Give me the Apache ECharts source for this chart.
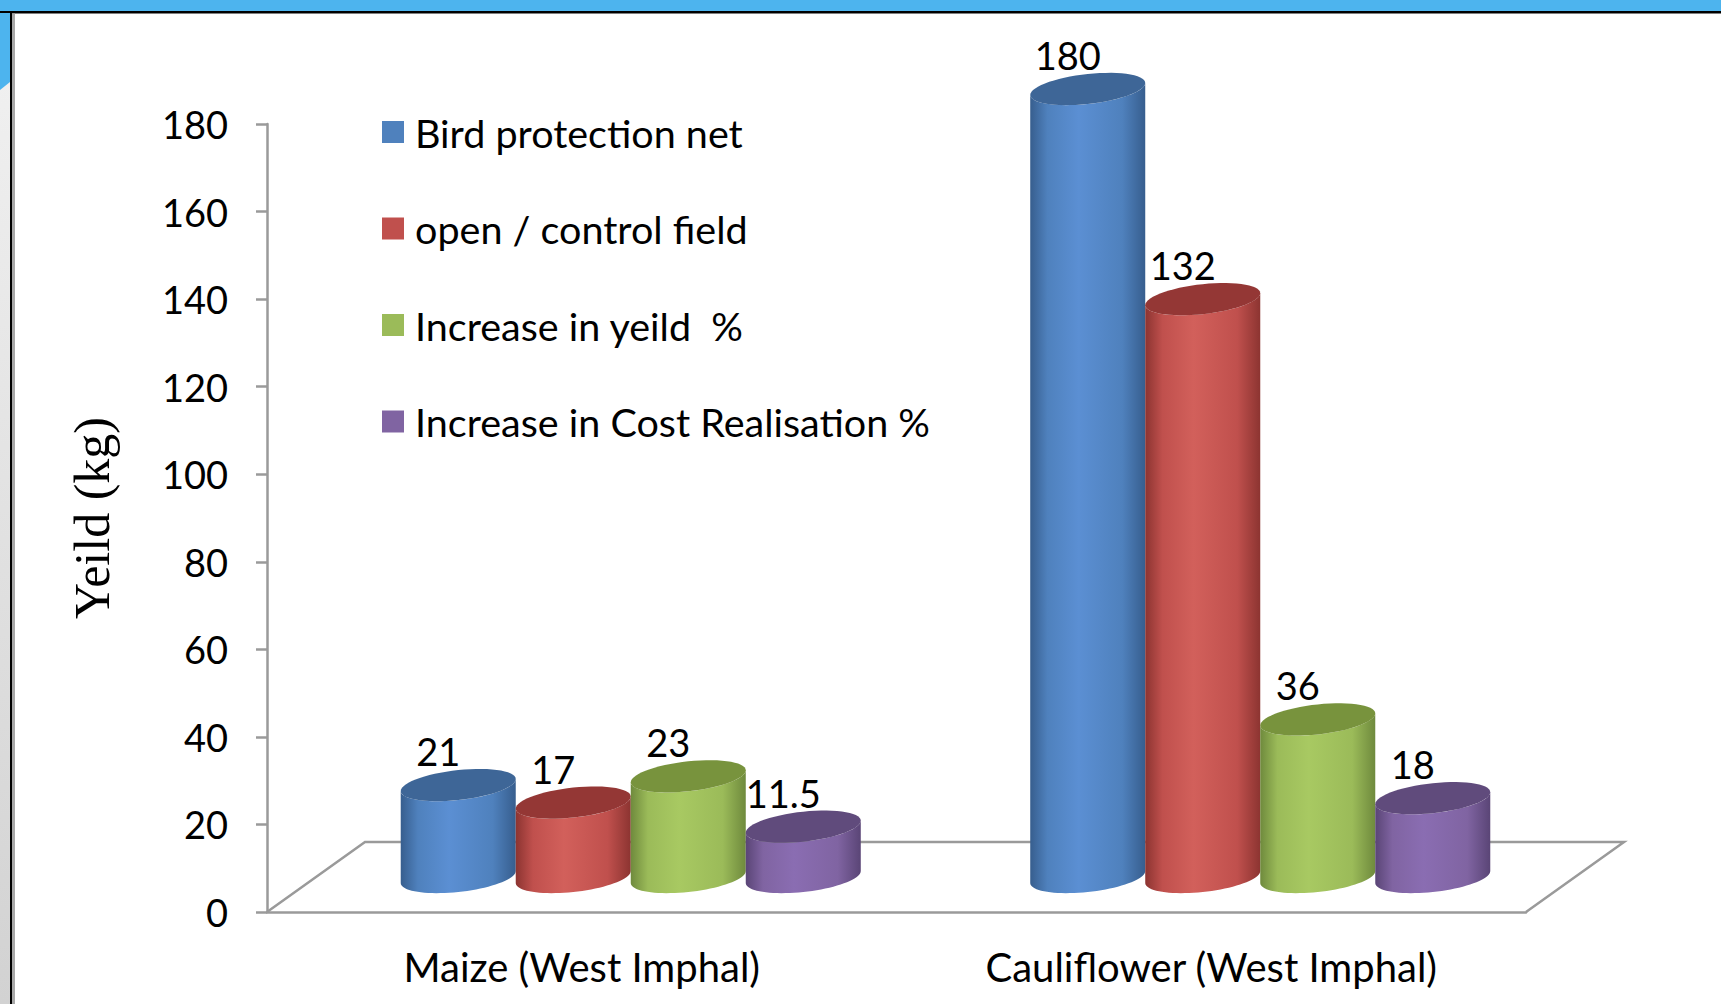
<!DOCTYPE html>
<html>
<head>
<meta charset="utf-8">
<script src="https://cdn.jsdelivr.net/npm/echarts@6/dist/echarts.min.js"></script>
<style>
  html, body { margin: 0; padding: 0; background: #fff; }
  #chart { width: 1721px; height: 1004px; }
</style>
</head>
<body>
<div id="chart"></div>
<script>
// data
var categories = ['Maize (West Imphal)', 'Cauliflower (West Imphal)'];
var seriesNames = ['Bird protection net', 'open / control field', 'Increase in yeild  %', 'Increase in Cost Realisation %'];
var birdNet = [21, 180];
var openField = [17, 132];
var yieldIncrease = [23, 36];
var costIncrease = [11.5, 18];
var yTicks = [0, 20, 40, 60, 80, 100, 120, 140, 160, 180];

// look
var palette = [
  { base: '#4f81bd', light: '#5b8fd3', dark: '#375e8e', top: '#3e6697' },
  { base: '#c0504d', light: '#d2605b', dark: '#8c3431', top: '#943735' },
  { base: '#9bbb59', light: '#a8c962', dark: '#6f8a3d', top: '#78933d' },
  { base: '#8064a2', light: '#8a6db2', dark: '#5a4576', top: '#604b7c' }
];
var DEPTH_X = 98, DEPTH_Y = -70;   // 3d floor depth
var BAR_RATIO = 0.1827;
var RY = 15, SKEW = 6;
var FONT = 'Lato';

var myChart = echarts.init(document.getElementById('chart'), null, { renderer: 'svg' });

function ellipsePts(cx, cy, rx, ry, s, t0, t1, n) {
  var pts = [];
  for (var k = 0; k <= n; k++) {
    var t = t0 + (t1 - t0) * k / n;
    pts.push([cx + rx * Math.cos(t), cy + ry * Math.sin(t) - s * Math.cos(t)]);
  }
  return pts;
}

function makeCylinder(i) {
  var c = palette[i];
  return function (params, api) {
    var idx = api.value(0), val = api.value(1);
    var p0 = api.coord([idx, 0]);
    var p1 = api.coord([idx, val]);
    var bw = api.size([1, 0])[0] * BAR_RATIO;
    var cx = p0[0] + (i - 1.5) * bw + DEPTH_X / 2;
    var topY = p1[1] + DEPTH_Y / 2;
    var baseY = p0[1] + DEPTH_Y / 2;
    var rx = bw / 2;

    var body = [];
    body = body.concat(ellipsePts(cx, baseY, rx, RY, SKEW, Math.PI, 0, 40));
    body = body.concat(ellipsePts(cx, topY, rx, RY, SKEW, 0, Math.PI, 40));
    var grad = new echarts.graphic.LinearGradient(0, 0, 1, 0, [
      { offset: 0, color: c.dark },
      { offset: 0.15, color: c.base },
      { offset: 0.42, color: c.light },
      { offset: 0.8, color: c.base },
      { offset: 1, color: c.dark }
    ]);
    return {
      type: 'group',
      children: [
        { type: 'polygon', shape: { points: body }, style: { fill: grad } },
        { type: 'polygon', shape: { points: ellipsePts(cx, topY, rx, RY, SKEW, 0, Math.PI * 2, 60) },
          style: { fill: c.top } },
        { type: 'text', x: cx - 20, y: topY - 34,
          style: { text: String(val), font: '38px ' + FONT, fill: '#000',
                   align: 'center', verticalAlign: 'middle' } }
      ]
    };
  };
}

function renderFloor(params, api) {
  var cs = params.coordSys;
  var x0 = cs.x, x1 = cs.x + cs.width, y0 = cs.y + cs.height;
  return {
    type: 'polyline',
    shape: { points: [[x0, y0], [x0 + DEPTH_X, y0 + DEPTH_Y], [x1 + DEPTH_X, y0 + DEPTH_Y], [x1, y0]] },
    style: { stroke: '#9a9a9a', lineWidth: 2.5, fill: null }
  };
}

var values = [birdNet, openField, yieldIncrease, costIncrease];
var series = [{
  type: 'custom', name: 'floor', silent: true, z: 1,
  renderItem: renderFloor, data: [[0, 0]]
}];
values.forEach(function (arr, i) {
  series.push({
    type: 'custom',
    name: seriesNames[i],
    z: 2,
    itemStyle: { color: palette[i].base },
    renderItem: makeCylinder(i),
    data: arr.map(function (v, k) { return [k, v]; })
  });
});

var option = {
  animation: false,
  backgroundColor: '#fff',
  graphic: [
    { type: 'rect', shape: { x: 0, y: 0, width: 1721, height: 11 }, style: { fill: '#4db4ee' } },
    { type: 'rect', shape: { x: 0, y: 11, width: 1721, height: 2.5 }, style: { fill: '#000' } },
    { type: 'rect', shape: { x: 0, y: 13, width: 10, height: 991 },
      style: { fill: new echarts.graphic.LinearGradient(0, 0, 0, 1, [
        { offset: 0, color: '#f2f2f2' }, { offset: 1, color: '#d2d2d2' }]) } },
    { type: 'polygon', shape: { points: [[0, 13], [10, 13], [10, 82], [0, 90]] }, style: { fill: '#4db4ee' } },
    { type: 'rect', shape: { x: 10, y: 11, width: 2, height: 993 }, style: { fill: '#000' } },
    { type: 'rect', shape: { x: 12, y: 13.5, width: 3, height: 991 }, style: { fill: '#a8a8a8' } }
  ],
  legend: {
    data: seriesNames,
    orient: 'vertical',
    left: 382,
    top: 112,
    padding: 0,
    itemGap: 56.5,
    itemWidth: 22,
    itemHeight: 22,
    icon: 'rect',
    selectedMode: false,
    textStyle: { fontFamily: FONT, fontSize: 39.5, color: '#000', lineHeight: 40, padding: [0, 0, 0, 6] }
  },
  grid: { left: 267, right: 195, top: 124, bottom: 92 },
  xAxis: {
    type: 'category',
    data: categories,
    axisLine: { lineStyle: { color: '#9a9a9a', width: 2.5 } },
    axisTick: { length: 12, lineStyle: { color: '#9a9a9a', width: 2.5 } },
    axisLabel: { fontFamily: FONT, fontSize: 40, color: '#000', margin: 35 }
  },
  yAxis: {
    type: 'value',
    min: yTicks[0],
    max: yTicks[yTicks.length - 1],
    interval: 20,
    name: 'Yeild (kg)',
    nameLocation: 'middle',
    nameGap: 150,
    nameTextStyle: { fontFamily: 'Liberation Serif', fontSize: 50, color: '#000' },
    axisLine: { show: true, lineStyle: { color: '#9a9a9a', width: 2.5 } },
    axisTick: { show: true, length: 11, lineStyle: { color: '#9a9a9a', width: 2.5 } },
    splitLine: { show: false },
    axisLabel: { fontFamily: FONT, fontSize: 38, color: '#000', margin: 39 }
  },
  series: series
};

myChart.setOption(option);
</script>
</body>
</html>
